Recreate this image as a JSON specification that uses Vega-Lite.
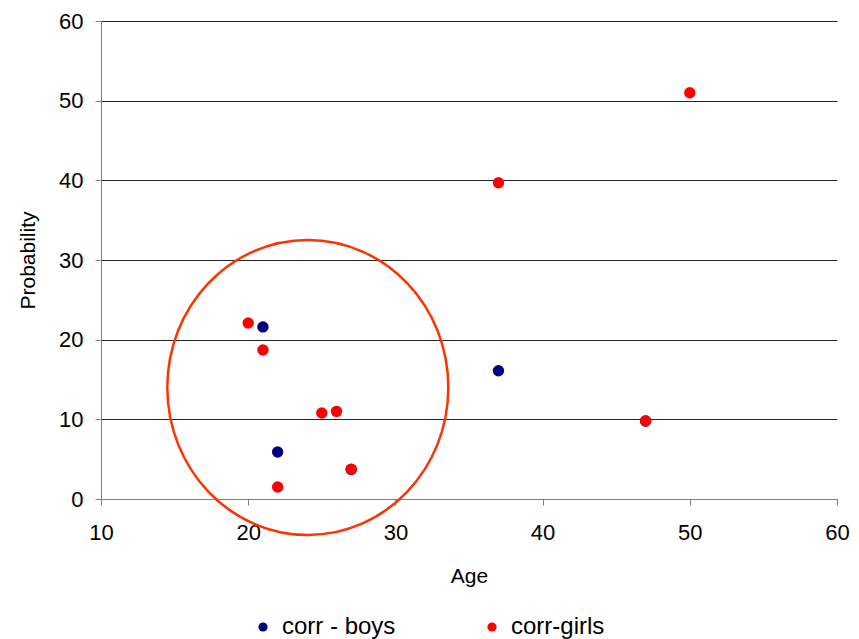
{
  "$schema": "https://vega.github.io/schema/vega-lite/v6.json",
  "width": 736,
  "height": 478,
  "autosize": "none",
  "padding": {"left": 101, "top": 21, "right": 22, "bottom": 140},
  "background": "white",
  "config": {
    "view": {"stroke": null},
    "font": "Liberation Sans",
    "axis": {
      "labelFont": "Liberation Sans",
      "titleFont": "Liberation Sans",
      "labelFontSize": 22,
      "titleFontSize": 21,
      "titleFontWeight": "normal",
      "labelColor": "#000",
      "titleColor": "#000",
      "domainColor": "#808080",
      "tickColor": "#808080",
      "tickSize": 6,
      "labelFlush": false
    },
    "legend": {
      "labelFont": "Liberation Sans",
      "labelFontSize": 24,
      "labelColor": "#000"
    }
  },
  "layer": [
    {
      "data": {
        "values": [
          {"Age": 21, "Probability": 21.6, "series": "corr - boys"},
          {"Age": 22, "Probability": 5.9, "series": "corr - boys"},
          {"Age": 27, "Probability": 3.7, "series": "corr - boys"},
          {"Age": 37, "Probability": 16.1, "series": "corr - boys"},
          {"Age": 47, "Probability": 9.8, "series": "corr - boys"},
          {"Age": 20, "Probability": 22.1, "series": "corr-girls"},
          {"Age": 21, "Probability": 18.7, "series": "corr-girls"},
          {"Age": 22, "Probability": 1.5, "series": "corr-girls"},
          {"Age": 25, "Probability": 10.8, "series": "corr-girls"},
          {"Age": 26, "Probability": 11.0, "series": "corr-girls"},
          {"Age": 27, "Probability": 3.75, "series": "corr-girls"},
          {"Age": 37, "Probability": 39.7, "series": "corr-girls"},
          {"Age": 47, "Probability": 9.8, "series": "corr-girls"},
          {"Age": 50, "Probability": 51.0, "series": "corr-girls"}
        ]
      },
      "mark": {"type": "point", "filled": true, "opacity": 1, "size": 130, "shape": "circle"},
      "encoding": {
        "x": {
          "field": "Age",
          "type": "quantitative",
          "title": "Age",
          "scale": {"domain": [10, 60], "nice": false},
          "axis": {
            "grid": false,
            "values": [10, 20, 30, 40, 50, 60],
            "labelPadding": 17,
            "titlePadding": 22
          }
        },
        "y": {
          "field": "Probability",
          "type": "quantitative",
          "title": "Probability",
          "scale": {"domain": [0, 60], "nice": false},
          "axis": {
            "grid": true,
            "gridColor": "#000",
            "gridOpacity": 0.85,
            "values": [0, 10, 20, 30, 40, 50, 60],
            "labelPadding": 12,
            "titlePadding": 20
          }
        },
        "color": {
          "field": "series",
          "type": "nominal",
          "scale": {"domain": ["corr - boys", "corr-girls"], "range": ["#000080", "#ff0000"]},
          "legend": {
            "title": null,
            "orient": "none",
            "direction": "horizontal",
            "legendX": 150,
            "legendY": 594,
            "symbolType": "circle",
            "symbolSize": 85,
            "symbolOpacity": 1,
            "labelOffset": 7,
            "columnPadding": 84
          }
        }
      }
    },
    {
      "data": {"values": [{"Age": 24.05, "Probability": 14.0}]},
      "mark": {
        "type": "point",
        "filled": false,
        "shape": "M-1,0A1,1.05 0 1,1 1,0A1,1.05 0 1,1 -1,0Z",
        "size": 78961,
        "stroke": "#ff3300",
        "strokeWidth": 2.5,
        "opacity": 1
      },
      "encoding": {
        "x": {"field": "Age", "type": "quantitative"},
        "y": {"field": "Probability", "type": "quantitative"}
      }
    }
  ]
}
